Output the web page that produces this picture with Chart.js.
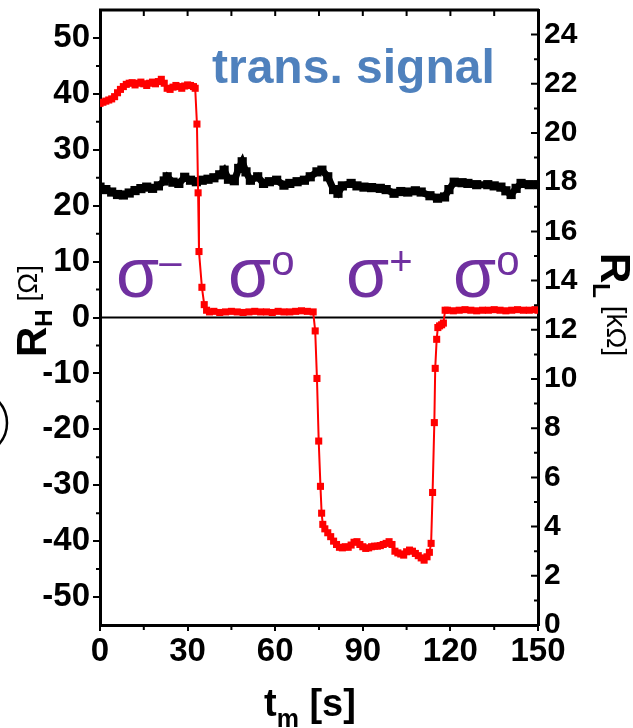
<!DOCTYPE html>
<html>
  <head>
    <title>trans. signal</title>
    <script src="https://cdn.jsdelivr.net/npm/chart.js"></script>
    <style>
      body { margin: 0; background: #fff; }
      .chart-container { width: 633px; height: 728px; }
    </style>
  </head>
  <body>
    <div class="chart-container">
      <canvas id="myChart" width="633" height="728"></canvas>
    </div>

    <script>
      // R_H, left axis [Ohm]
      const timeH = [
        0, 1, 2, 3, 4, 5, 6, 7, 8, 9, 10, 11, 12, 13, 14, 15, 16, 17, 18, 19,
        20, 21, 22, 23, 24, 25, 26, 27, 28, 29, 30, 31, 32, 32.6,
        33.2, 33.6, 33.9, 34.9, 35.7, 36.5,
        37.5, 39, 41, 43, 45, 47, 49, 51, 53, 55, 57, 59, 61, 63, 65, 67, 69, 71, 73,
        73.7, 74.3, 74.9, 75.5, 75.9, 76.3,
        77, 78, 79, 80, 81, 82, 83, 84, 85, 86, 87, 88, 89, 90, 91, 92, 93, 94,
        95, 96, 97, 98, 99, 100, 101, 102, 103, 104, 105, 106, 107, 108, 109,
        110, 111, 112, 112.8,
        113.4, 113.9, 114.5, 114.8, 115.3, 115.7, 116.3, 117, 117.6,
        118.2, 119, 121, 123, 125, 127, 129, 131, 133, 135, 137, 139, 141, 143,
        145, 147, 149, 150
      ];
      const valH = [
        38.3, 38.5, 38.7, 38.9, 39.1, 39.5, 40.2, 40.8, 41.3, 41.7, 41.9, 42.0,
        41.6, 41.9, 42.1, 41.8, 41.5, 41.9, 42.1, 41.8, 42.2, 42.6, 41.9, 41.0,
        40.8, 41.2, 41.5, 41.3, 41.0, 41.4, 41.6, 41.5, 41.3, 41.0,
        34.6, 22.3, 11.8, 5.4, 2.3, 1.3,
        1.0, 1.1, 0.9, 1.0, 1.1, 1.0, 0.9, 1.0, 1.1, 1.0, 1.0, 0.9, 1.1, 1.0,
        1.0, 1.1, 1.2, 1.1, 1.0,
        -2.4, -10.9, -22.1, -30.2, -35.0, -37.0,
        -37.8, -38.5, -39.2, -40.0, -40.6, -41.1, -41.2, -41.0, -41.1, -40.7,
        -40.2, -40.1, -40.6, -41.0, -41.3, -41.2, -41.0, -40.9,
        -40.9, -40.8, -40.6, -40.4, -40.1, -40.6, -41.8, -42.1, -42.3, -42.5,
        -41.9, -41.6, -41.8, -42.2, -42.6,
        -43.0, -43.4, -42.8, -42.0,
        -40.4, -31.3, -18.8, -9.1, -3.9, -1.8, -1.5, -1.3, -1.0,
        1.3, 1.3, 1.2, 1.3, 1.4, 1.3, 1.2, 1.3, 1.3, 1.4, 1.3, 1.2, 1.3, 1.4,
        1.3, 1.3, 1.4, 1.3
      ];

      // R_L, right axis [kOhm]
      const timeL = [
        0, 2, 4, 6, 8, 10, 12, 14, 16, 18, 20, 22, 23, 25, 27, 29, 31, 33, 35,
        37, 39, 41, 42.5, 44, 46, 47.5, 48.7, 50, 51.5, 54, 56, 58, 60.5, 63,
        65, 67.5, 70, 72, 74.3, 76, 78, 80, 81.5, 83, 86, 88, 90.4, 93, 96,
        98, 100.7, 103, 105.4, 108, 110, 113, 115.6, 118, 119.5, 121.3, 124,
        126, 129, 132.8, 135, 137.3, 139, 140.8, 142.5, 144.2, 147, 150
      ];
      const valL = [
        17.80, 17.70, 17.60, 17.50, 17.48, 17.56, 17.66, 17.74, 17.80, 17.75,
        17.85, 18.05, 18.22, 18.00, 17.95, 18.20, 18.08, 18.02, 18.08,
        18.12, 18.18, 18.30, 18.49, 18.12, 18.06, 18.56, 18.83, 18.42, 18.08,
        18.22, 17.95, 18.02, 18.08, 17.88,
        17.95, 18.02, 18.08, 18.22, 18.42, 18.49, 18.22, 17.70, 17.55, 17.85,
        17.95, 17.85, 17.80, 17.78, 17.75,
        17.70, 17.55, 17.62, 17.60, 17.65, 17.60, 17.45, 17.35, 17.40, 17.70,
        18.00, 17.98,
        17.95, 17.90, 17.90, 17.85, 17.80, 17.65, 17.50, 17.75, 17.95, 17.90,
        17.90
      ];

      const xTickLabels = [0, 30, 60, 90, 120, 150];
      const leftTickLabels = [-50, -40, -30, -20, -10, 0, 10, 20, 30, 40, 50];
      const rightTickLabels = [0, 2, 4, 6, 8, 10, 12, 14, 16, 18, 20, 22, 24];

      // polarisation labels: start time and superscript
      const phaseTimes = [6.5, 44.9, 85.3, 121.9];
      const phaseSups = ["\u2013", "o", "+", "o"];

      const FAM = "'Liberation Sans', Arial, sans-serif";

      function drawRuns(ctx, runs, x, y) {
        let cx = x;
        for (const r of runs) {
          ctx.font = r.font;
          ctx.fillText(r.text, cx, y + (r.dy || 0));
          cx += ctx.measureText(r.text).width;
        }
      }

      function noPad(s) {
        s.paddingTop = 0;
        s.paddingBottom = 0;
        s.paddingLeft = 0;
        s.paddingRight = 0;
      }

      const decor = {
        id: "decor",
        beforeDatasetsDraw(chart) {
          const { ctx, chartArea: a, scales } = chart;
          const y0 = scales.y.getPixelForValue(0);
          ctx.save();
          ctx.strokeStyle = "#000";
          ctx.lineWidth = 2;
          ctx.beginPath();
          ctx.moveTo(a.left, y0);
          ctx.lineTo(a.right, y0);
          ctx.stroke();
          ctx.restore();
        },
        afterDraw(chart) {
          const { ctx, chartArea: a, scales } = chart;
          const { x, y, y2 } = scales;
          ctx.save();
          ctx.strokeStyle = "#000";
          ctx.lineWidth = 3;
          ctx.beginPath();
          ctx.moveTo(a.left - 1, a.top);
          ctx.lineTo(a.right + 1, a.top);
          ctx.stroke();

          // minor / inward ticks
          ctx.lineWidth = 2;
          ctx.beginPath();
          for (let v = -45; v <= 45; v += 10) {
            const p = y.getPixelForValue(v);
            ctx.moveTo(a.left, p);
            ctx.lineTo(a.left - 4, p);
          }
          for (let v = 15; v < 150; v += 15) {
            const p = x.getPixelForValue(v);
            ctx.moveTo(p, a.top);
            ctx.lineTo(p, a.top + 6);
          }
          for (let v = 15; v < 150; v += 30) {
            const p = x.getPixelForValue(v);
            ctx.moveTo(p, a.bottom);
            ctx.lineTo(p, a.bottom + 5);
          }
          for (let v = 1; v < 25; v += 1) {
            const p = y2.getPixelForValue(v);
            ctx.moveTo(a.right, p);
            ctx.lineTo(a.right - (v % 2 ? 4 : 7), p);
          }
          ctx.stroke();

          // cut-off circle at left edge
          ctx.lineWidth = 2.5;
          ctx.beginPath();
          ctx.arc(-25, 423, 32, -Math.PI / 2, Math.PI / 2);
          ctx.stroke();

          // title
          ctx.fillStyle = "#4f81bd";
          ctx.font = "bold 48px " + FAM;
          ctx.textBaseline = "alphabetic";
          ctx.textAlign = "left";
          ctx.fillText("trans. signal", 212, 83);

          // sigma labels
          ctx.fillStyle = "#7030a0";
          const by = y.getPixelForValue(3.75);
          phaseTimes.forEach((t, i) => {
            const px = x.getPixelForValue(t);
            ctx.font = "70px " + FAM;
            ctx.fillText("\u03c3", px - 3, by);
            const w = ctx.measureText("\u03c3").width;
            ctx.font = (phaseSups[i] === "o" ? "42px " : "40px ") + FAM;
            ctx.fillText(phaseSups[i], px - 3 + w, by - 22);
          });

          // axis titles
          ctx.fillStyle = "#000";
          drawRuns(ctx, [
            { text: "t", font: "bold 38px " + FAM },
            { text: "m", font: "bold 25px " + FAM, dy: 11 },
            { text: " [s]", font: "bold 38px " + FAM }
          ], 264, 716);

          ctx.save();
          ctx.translate(46, 357);
          ctx.rotate(-Math.PI / 2);
          drawRuns(ctx, [
            { text: "R", font: "bold 42px " + FAM },
            { text: "H", font: "bold 24px " + FAM, dy: 6 },
            { text: " [\u03a9]", font: "28px " + FAM, dy: -9 }
          ], 0, 0);
          ctx.restore();

          ctx.save();
          ctx.translate(601, 253);
          ctx.rotate(Math.PI / 2);
          drawRuns(ctx, [
            { text: "R", font: "bold 42px " + FAM },
            { text: "L", font: "bold 24px " + FAM, dy: 8 },
            { text: " [k\u03a9]", font: "28px " + FAM, dy: -6 }
          ], 0, 0);
          ctx.restore();

          ctx.restore();
        }
      };

      const tickFont = { family: FAM, weight: "bold", size: 33 };

      const chartData = {
        datasets: [
          {
            label: "R_H",
            data: timeH.map((t, i) => ({ x: t, y: valH[i] })),
            yAxisID: "y",
            borderColor: "#ff0000",
            backgroundColor: "#ff0000",
            borderWidth: 2,
            pointStyle: "rect",
            pointRadius: 5,
            pointBorderWidth: 0,
            tension: 0
          },
          {
            label: "R_L",
            data: timeL.map((t, i) => ({ x: t, y: valL[i] })),
            yAxisID: "y2",
            borderColor: "#000000",
            backgroundColor: "#000000",
            borderWidth: 7,
            pointStyle: "rect",
            pointRadius: 6.5,
            pointBorderWidth: 0,
            tension: 0
          }
        ]
      };

      const chartOptions = {
        responsive: false,
        animation: false,
        layout: { padding: { top: 10, left: 0, right: 0, bottom: 0 } },
        plugins: { legend: { display: false }, tooltip: { enabled: false } },
        scales: {
          x: {
            type: "linear",
            position: "bottom",
            min: 0,
            max: 150,
            afterBuildTicks: (s) => {
              s.ticks = xTickLabels.map((v) => ({ value: v }));
            },
            ticks: { color: "#000", font: tickFont, padding: 1, maxRotation: 0, autoSkip: false },
            grid: { drawOnChartArea: false, color: "#000", lineWidth: 2, tickLength: 6 },
            border: { color: "#000", width: 3 },
            afterFit: (s) => { s.height = 103; noPad(s); }
          },
          y: {
            type: "linear",
            position: "left",
            min: -55,
            max: 55,
            afterBuildTicks: (s) => {
              s.ticks = leftTickLabels.map((v) => ({ value: v }));
            },
            ticks: { color: "#000", font: tickFont, padding: 3 },
            grid: { drawOnChartArea: false, color: "#000", lineWidth: 2, tickLength: 7 },
            border: { color: "#000", width: 3 },
            afterFit: (s) => { s.width = 100; noPad(s); }
          },
          y2: {
            type: "linear",
            position: "right",
            min: 0,
            max: 25,
            afterBuildTicks: (s) => {
              s.ticks = rightTickLabels.map((v) => ({ value: v }));
            },
            ticks: { color: "#000", font: { family: FAM, weight: "bold", size: 30 }, padding: 6 },
            grid: { drawOnChartArea: false, drawTicks: false, color: "#000" },
            border: { color: "#000", width: 3 },
            afterFit: (s) => { s.width = 95; noPad(s); }
          }
        }
      };

      const myChart = new Chart(document.getElementById("myChart"), {
        type: "line",
        data: chartData,
        options: chartOptions,
        plugins: [decor]
      });
    </script>
  </body>
</html>
